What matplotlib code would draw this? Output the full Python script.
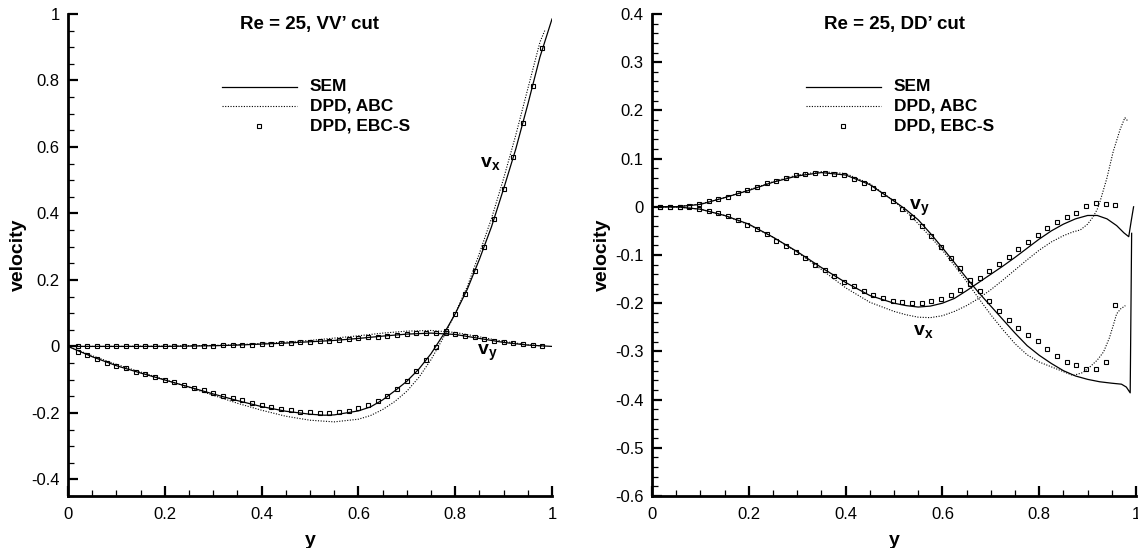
import numpy as np
import matplotlib
matplotlib.use('Agg')
import matplotlib.pyplot as plt
from matplotlib.ticker import MultipleLocator, FuncFormatter

plt.rcParams['font.family'] = ['Liberation Sans', 'DejaVu Sans']
plt.rcParams['axes.unicode_minus'] = False
plt.rcParams['mathtext.fontset'] = 'custom'
plt.rcParams['mathtext.bf'] = 'Liberation Sans:bold'
plt.rcParams['mathtext.rm'] = 'Liberation Sans'
plt.rcParams['mathtext.it'] = 'Liberation Sans:italic'

# ---------------- Left panel: Re = 25, VV' cut ----------------
L_sem_x_vx = [0, .05, .1, .15, .2, .25, .3, .35, .4, .45, .5, .53, .55, .6, .625, .65, .675, .7, .725,
              .75, .775, .8, .825, .85, .875, .9, .925, .95, .975, 1.0]
L_sem_vx = [0, -.031, -.058, -.08, -.101, -.122, -.143, -.163, -.181, -.195, -.204, -.207, -.206, -.194,
            -.182, -.161, -.134, -.105, -.068, -.022, .034, .098, .172, .262, .36, .474, .593, .728, .87, .985]
L_sem_x_vy = [0, .1, .2, .25, .3, .35, .4, .45, .5, .55, .6, .65, .7, .75, .8, .85, .9, .95, 1.0]
L_sem_vy = [0, 0, 0, .001, .002, .004, .007, .01, .014, .018, .024, .031, .037, .04, .036, .024, .012, .004, 0]

L_abc_x_vx = [0, .05, .1, .15, .2, .25, .3, .35, .4, .45, .5, .55, .6, .625, .65, .675, .7, .725, .75,
              .775, .8, .825, .85, .875, .9, .925, .95, .975, .985]
L_abc_vx = [0, -.028, -.054, -.077, -.1, -.123, -.147, -.171, -.192, -.21, -.222, -.227, -.219, -.208,
            -.19, -.166, -.135, -.093, -.04, .025, .1, .18, .28, .385, .505, .635, .775, .915, .95]
L_abc_x_vy = [0, .1, .2, .25, .3, .35, .4, .45, .5, .55, .6, .65, .7, .75, .8, .85, .9, .95, .985]
L_abc_vy = [0, 0, .001, .002, .003, .005, .009, .013, .018, .025, .032, .04, .046, .048, .042, .029, .015, .005, .001]

L_ebc_x = [.02, .04, .06, .08, .10, .12, .14, .16, .18, .20, .22, .24, .26, .28, .30, .32, .34, .36,
           .38, .40, .42, .44, .46, .48, .50, .52, .54, .56, .58, .60, .62, .64, .66, .68, .70, .72,
           .74, .76, .78, .80, .82, .84, .86, .88, .90, .92, .94, .96, .98]
L_ebc_vx = [-.016, -.026, -.039, -.05, -.058, -.066, -.076, -.083, -.092, -.1,
            -.108, -.115, -.124, -.132, -.14, -.148, -.155, -.161, -.169, -.175,
            -.182, -.188, -.192, -.196, -.198, -.2, -.2, -.198, -.193, -.186,
            -.177, -.165, -.148, -.127, -.103, -.074, -.04, -.002, .047, .098,
            .158, .227, .30, .382, .474, .569, .673, .783, .899]
L_ebc_vy = [0, 0, 0, 0, 0, 0, 0, 0, 0, 0, 0, .001, .001, .002, .002, .003, .004, .005, .005, .007,
            .008, .009, .01, .012, .014, .015, .017, .019, .022, .024, .027, .029, .032, .035, .037,
            .039, .04, .04, .039, .036, .032, .027, .022, .017, .012, .009, .006, .003, .001]

# ---------------- Right panel: Re = 25, DD' cut ----------------
R_sem_x_vx = [0, .05, .1, .15, .2, .25, .3, .35, .4, .45, .5, .525, .55, .575, .6, .625, .65, .675, .7,
              .725, .75, .775, .8, .825, .85, .875, .9, .92, .94, .96, .975, .985, .99, .995]
R_sem_vx = [0, 0, -.005, -.018, -.036, -.063, -.093, -.126, -.157, -.184, -.2, -.205, -.208, -.206, -.2,
            -.19, -.174, -.157, -.14, -.123, -.105, -.086, -.067, -.05, -.036, -.025, -.018, -.018,
            -.025, -.039, -.054, -.062, -.03, 0]
R_sem_x_vy = [0, .05, .1, .15, .2, .25, .3, .35, .4, .45, .5, .525, .55, .575, .6, .625, .65, .675, .7,
              .725, .75, .775, .8, .825, .85, .875, .9, .925, .95, .97, .98, .988, .991]
R_sem_vy = [0, 0, .005, .019, .034, .051, .064, .071, .066, .046, .012, -.006, -.027, -.055, -.085,
            -.116, -.148, -.178, -.206, -.234, -.262, -.288, -.308, -.325, -.34, -.351, -.358, -.363,
            -.366, -.368, -.374, -.386, -.055]

R_abc_x_vx = [0, .05, .1, .15, .2, .25, .3, .35, .4, .45, .5, .525, .55, .575, .6, .625, .65, .675, .7,
              .725, .75, .775, .8, .825, .85, .87, .885, .9, .912, .92, .926, .94, .953, .967, .977, .983]
R_abc_vx = [0, 0, -.005, -.018, -.037, -.063, -.094, -.13, -.168, -.198, -.217, -.224, -.229, -.23,
            -.226, -.217, -.205, -.19, -.172, -.152, -.131, -.11, -.09, -.073, -.06, -.052, -.048,
            -.036, -.02, -.005, .012, .06, .115, .16, .185, .178]
R_abc_x_vy = [0, .05, .1, .15, .2, .25, .3, .35, .4, .45, .5, .525, .55, .575, .6, .625, .65, .675, .7,
              .725, .75, .775, .8, .825, .85, .87, .89, .905, .92, .933, .945, .953, .96, .968, .978]
R_abc_vy = [0, 0, .006, .019, .035, .052, .066, .073, .069, .048, .012, -.01, -.035, -.062, -.09, -.122,
            -.155, -.19, -.224, -.255, -.284, -.307, -.322, -.332, -.342, -.35, -.344, -.332, -.318,
            -.301, -.272, -.246, -.222, -.212, -.205]

R_ebc_x = [.017, .037, .057, .077, .097, .117, .137, .157, .177, .197, .217, .237, .257, .277, .297,
           .317, .337, .357, .377, .397, .417, .437, .457, .477, .497, .517, .537, .557, .577, .597,
           .617, .637, .657, .677, .697, .717, .737, .757, .777, .797, .817, .837, .857, .877, .897,
           .917, .937, .957]
R_ebc_vx = [0, 0, 0, -.001, -.004, -.008, -.013, -.02, -.028, -.037, -.046, -.057, -.07, -.081, -.094,
            -.106, -.12, -.132, -.143, -.155, -.165, -.175, -.183, -.189, -.195, -.198, -.199, -.199,
            -.196, -.191, -.184, -.173, -.161, -.148, -.134, -.119, -.104, -.088, -.074, -.059, -.044,
            -.032, -.022, -.012, .002, .007, .005, .004]
R_ebc_vy = [0, 0, 0, .001, .006, .011, .016, .021, .028, .035, .042, .049, .054, .06, .065, .069, .071,
            .071, .069, .065, .058, .05, .04, .027, .012, -.004, -.021, -.039, -.061, -.083, -.106,
            -.128, -.152, -.175, -.196, -.216, -.234, -.252, -.267, -.279, -.296, -.31, -.322, -.329,
            -.336, -.336, -.322, -.203]

legend_labels = ['SEM', 'DPD, ABC', 'DPD, EBC-S']

W, H = 1138, 548
fig = plt.figure(figsize=(W / 100, H / 100), dpi=100)
axL = fig.add_axes([68 / W, 1 - 496 / H, 484 / W, 482 / H])
axR = fig.add_axes([652 / W, 1 - 496 / H, 484 / W, 482 / H])

solid = dict(color='black', lw=0.9, ls='-')
dotted = dict(color='black', lw=0.8, ls=(0, (1, 1.4)))
mark = dict(ls='none', marker='s', ms=3.4, mfc='none', mec='black', mew=0.8)

def style(ax, ylim, ymajor, yminor, title):
    ax.set_xlim(0, 1)
    ax.set_ylim(*ylim)
    ax.xaxis.set_major_locator(MultipleLocator(0.2))
    ax.xaxis.set_minor_locator(MultipleLocator(0.05))
    ax.yaxis.set_major_locator(MultipleLocator(ymajor))
    ax.yaxis.set_minor_locator(MultipleLocator(yminor))
    fmt = FuncFormatter(lambda v, p: '%g' % round(v, 3))
    ax.xaxis.set_major_formatter(fmt)
    ax.yaxis.set_major_formatter(fmt)
    for s in ['top', 'right']:
        ax.spines[s].set_visible(False)
    for s in ['left', 'bottom']:
        ax.spines[s].set_linewidth(2.0)
    ax.tick_params(which='major', direction='in', length=7.5, width=1.6, labelsize=12)
    ax.tick_params(axis='x', which='major', pad=8)
    ax.tick_params(axis='y', which='major', pad=6)
    ax.tick_params(which='minor', direction='in', length=4, width=0.9)
    ax.tick_params(top=False, right=False, which='both')
    ax.set_xlabel('y', fontsize=14, fontweight='bold', labelpad=7)
    ax.set_ylabel('velocity', fontsize=14, fontweight='bold', labelpad=3)
    ax.text(0.5, 0.995, title, transform=ax.transAxes, ha='center', va='top',
            fontsize=13.5, fontweight='bold')
    # legend
    rows = [0.849, 0.809, 0.767]
    ax.plot([0.318, 0.473], [rows[0]] * 2, transform=ax.transAxes, **solid)
    ax.plot([0.318, 0.473], [rows[1]] * 2, transform=ax.transAxes, **dotted)
    ax.plot([0.395], [rows[2]], transform=ax.transAxes, **mark)
    for r, lab in zip(rows, legend_labels):
        ax.text(0.5, r, lab, transform=ax.transAxes, ha='left', va='center',
                fontsize=12.5, fontweight='bold')

# left
axL.plot(L_sem_x_vx, L_sem_vx, **solid)
axL.plot(L_sem_x_vy, L_sem_vy, **solid)
axL.plot(L_abc_x_vx, L_abc_vx, **dotted)
axL.plot(L_abc_x_vy, L_abc_vy, **dotted)
axL.plot(L_ebc_x, L_ebc_vx, **mark)
axL.plot(L_ebc_x, L_ebc_vy, **mark)
style(axL, (-0.45, 1.0), 0.2, 0.05, 'Re = 25, VV\u2019 cut')
axL.text(0.872, 0.55, r'$\mathbf{v}_\mathbf{x}$', fontsize=14, ha='center', va='center')
axL.text(0.866, -0.02, r'$\mathbf{v}_\mathbf{y}$', fontsize=14, ha='center', va='center')

# right
axR.plot(R_sem_x_vx, R_sem_vx, **solid)
axR.plot(R_sem_x_vy, R_sem_vy, **solid)
axR.plot(R_abc_x_vx, R_abc_vx, **dotted)
axR.plot(R_abc_x_vy, R_abc_vy, **dotted)
axR.plot(R_ebc_x, R_ebc_vx, **mark)
axR.plot(R_ebc_x, R_ebc_vy, **mark)
style(axR, (-0.6, 0.4), 0.1, 0.02, 'Re = 25, DD\u2019 cut')
axR.text(0.553, -0.002, r'$\mathbf{v}_\mathbf{y}$', fontsize=14, ha='center', va='center')
axR.text(0.56, -0.258, r'$\mathbf{v}_\mathbf{x}$', fontsize=14, ha='center', va='center')

fig.savefig('out.png', dpi=100)
